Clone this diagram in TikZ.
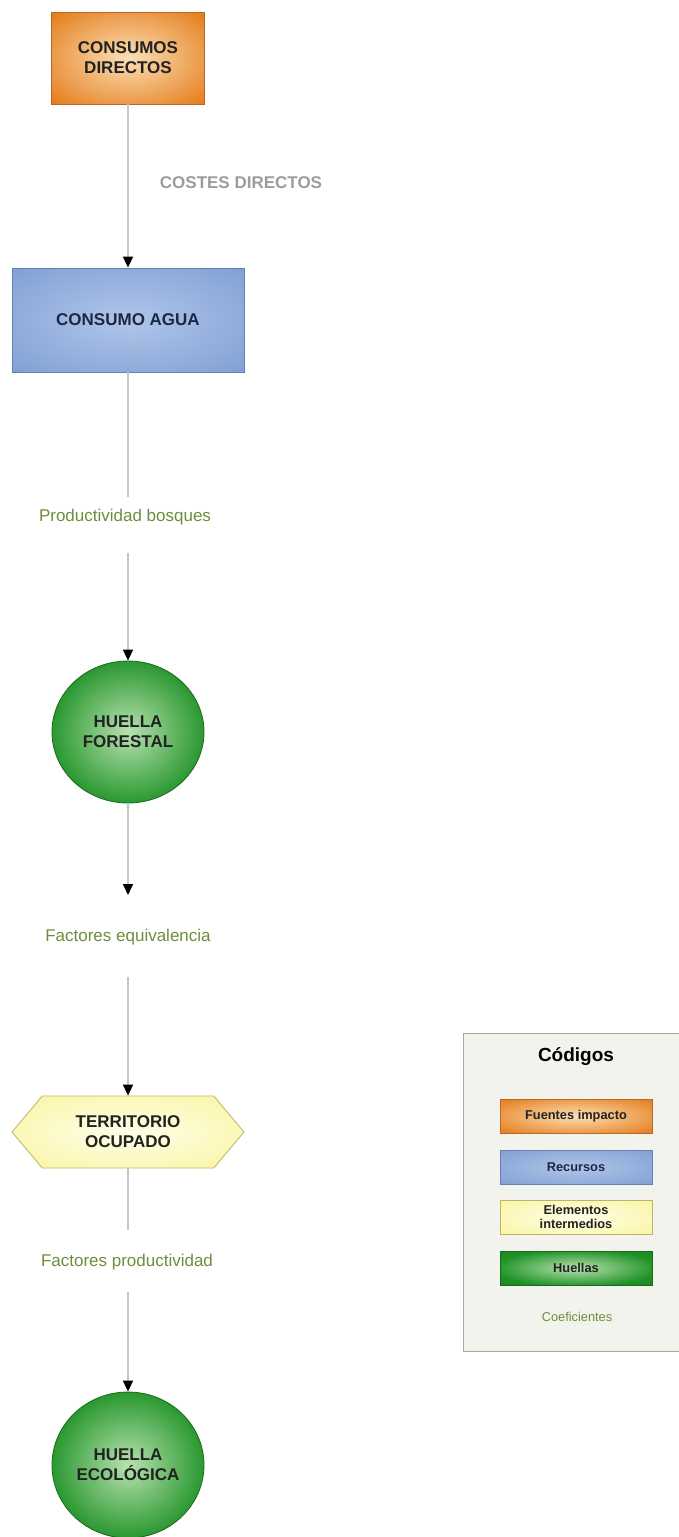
\documentclass[tikz,border=0pt]{standalone}
\usepackage{fontspec}
\setmainfont{Liberation Sans}
\usetikzlibrary{arrows.meta,shapes.geometric,shapes.symbols}

\definecolor{naranjaC}{HTML}{FBE0B6}
\definecolor{naranjaO}{HTML}{E47916}
\definecolor{naranjaB}{HTML}{B9682A}
\definecolor{azulC}{HTML}{B0C6E9}
\definecolor{azulO}{HTML}{7B9BD1}
\definecolor{azulB}{HTML}{6580B2}
\definecolor{amarilloC}{HTML}{FFFEE8}
\definecolor{amarilloO}{HTML}{F8F49A}
\definecolor{amarilloB}{HTML}{BDB46C}
\definecolor{verdeC}{HTML}{B8E2B0}
\definecolor{verdeO}{HTML}{1F9226}
\definecolor{verdeD}{HTML}{157419}
\definecolor{verdeB}{HTML}{1A6A1E}
\definecolor{lineagris}{HTML}{C6C6C6}
\definecolor{textoverde}{HTML}{6E8E3C}
\definecolor{textogris}{HTML}{9C9C9C}
\definecolor{textoosc}{HTML}{222222}
\definecolor{textoazul}{HTML}{1B2745}
\definecolor{fondoley}{HTML}{F3F3EE}
\definecolor{bordeley}{HTML}{A8A8A8}

\pgfdeclareradialshading{naranja}{\pgfpoint{0bp}{0bp}}{color(0bp)=(naranjaC); color(36bp)=(naranjaO); color(50bp)=(naranjaO)}
\pgfdeclareradialshading{azul}{\pgfpoint{0bp}{0bp}}{color(0bp)=(azulC); color(40bp)=(azulO); color(50bp)=(azulO)}
\pgfdeclareradialshading{amarillo}{\pgfpoint{0bp}{0bp}}{color(0bp)=(amarilloC); color(40bp)=(amarilloO); color(50bp)=(amarilloO)}
\pgfdeclareradialshading{verde}{\pgfpoint{0bp}{0bp}}{color(0bp)=(verdeC); color(27bp)=(verdeO); color(50bp)=(verdeD)}

\begin{document}
\begin{tikzpicture}[x=1pt,y=-1pt,
    caja/.style={rectangle,draw,line width=0.8pt,align=center,inner sep=0pt,
      font=\bfseries\fontsize{17}{20}\selectfont,text=textoosc},
    fuente/.style={caja,shading=naranja,draw=naranjaB},
    recurso/.style={caja,shading=azul,draw=azulB,text=textoazul},
    intermedio/.style={caja,shading=amarillo,draw=amarilloB},
    huella/.style={caja,ellipse,shading=verde,draw=verdeB},
    coef/.style={font=\fontsize{17}{20}\selectfont,text=textoverde},
    linea/.style={draw=lineagris,line width=1.6pt},
    flecha/.style={linea,-{Triangle[length=11pt,width=10pt,color=black]}},
    leyenda/.style={minimum width=152pt,minimum height=34pt,
      font=\bfseries\fontsize{12.8}{14}\selectfont}
  ]
  \useasboundingbox (0,0) rectangle (679,1537);

  \node[fuente,minimum width=153pt,minimum height=92pt] (directos) at (128,58) {CONSUMOS\\DIRECTOS};
  \node[recurso,minimum width=232pt,minimum height=104pt] (agua) at (128,320) {CONSUMO AGUA};
  \node[huella,minimum width=152pt,minimum height=142pt] (forestal) at (128,732) {HUELLA\\FORESTAL};
  \node[intermedio,signal,signal to=west and east,signal pointer angle=100,
    minimum width=232pt,minimum height=72pt] (territorio) at (128,1132) {TERRITORIO\\OCUPADO};
  \node[huella,minimum width=152pt,minimum height=146pt] (ecologica) at (128,1465) {HUELLA\\ECOLÓGICA};

  \node[font=\bfseries\fontsize{17}{20}\selectfont,text=textogris] (costes) at (241,183) {COSTES DIRECTOS};
  \node[coef] (prodbosques) at (125,517) {Productividad bosques};
  \node[coef] (factequiv) at (128,937) {Factores equivalencia};
  \node[coef] (factprod) at (127,1262) {Factores productividad};

  \coordinate (c1) at (128,497);
  \coordinate (c2) at (128,553);
  \coordinate (c3) at (128,895);
  \coordinate (c4) at (128,977);
  \coordinate (c5) at (128,1230);
  \coordinate (c6) at (128,1292);

  \draw[flecha] (directos) -- (agua);
  \draw[linea] (agua) -- (c1);
  \draw[flecha] (c2) -- (forestal);
  \draw[flecha] (forestal) -- (c3);
  \draw[flecha] (c4) -- (territorio);
  \draw[linea] (territorio) -- (c5);
  \draw[flecha] (c6) -- (ecologica);

  \draw[fill=fondoley,draw=bordeley,line width=1pt] (682,1033) -- (463,1033) -- (463,1351) -- (682,1351);
  \node[font=\bfseries\fontsize{19}{22}\selectfont,text=black] (codigos) at (576,1057) {Códigos};
  \node[fuente,leyenda] (leyfuentes) at (576,1116) {Fuentes impacto};
  \node[recurso,leyenda] (leyrecursos) at (576,1167) {Recursos};
  \node[intermedio,leyenda] (leyintermedios) at (576,1217) {Elementos\\intermedios};
  \node[caja,shading=verde,draw=verdeB,leyenda] (leyhuellas) at (576,1268) {Huellas};
  \node[font=\fontsize{12.8}{14}\selectfont,text=textoverde] (leycoef) at (577,1317) {Coeficientes};
\end{tikzpicture}
\end{document}
